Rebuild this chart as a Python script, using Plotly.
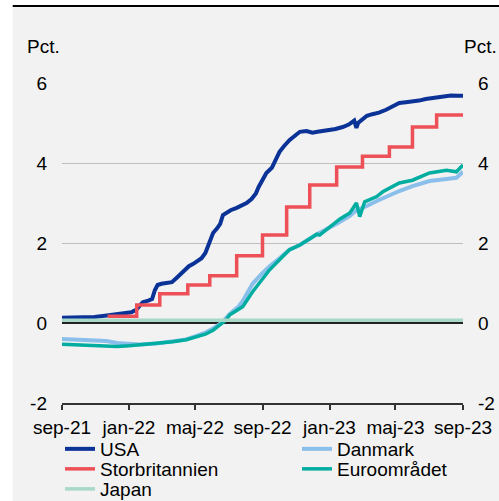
import plotly.graph_objects as go

# ---- data (percent) ----
usa_dates = [
    "2021-09-01", "2021-09-20", "2021-10-10", "2021-10-30", "2021-11-18", "2021-12-05",
    "2021-12-20", "2022-01-05", "2022-01-14", "2022-01-20", "2022-01-26", "2022-02-05",
    "2022-02-12", "2022-02-17", "2022-02-22", "2022-03-01", "2022-03-10", "2022-03-20",
    "2022-03-28", "2022-04-06", "2022-04-13", "2022-04-20", "2022-04-28", "2022-05-06",
    "2022-05-13", "2022-05-20", "2022-05-25", "2022-05-30", "2022-06-03", "2022-06-10",
    "2022-06-16", "2022-06-21", "2022-06-27", "2022-07-05", "2022-07-16", "2022-07-25",
    "2022-08-03", "2022-08-12", "2022-08-20", "2022-08-25", "2022-09-01", "2022-09-08",
    "2022-09-18", "2022-09-26", "2022-10-02", "2022-10-10", "2022-10-20", "2022-10-30",
    "2022-11-08", "2022-11-20", "2022-12-01", "2022-12-10", "2022-12-20", "2023-01-01",
    "2023-01-12", "2023-01-25", "2023-02-05", "2023-02-15", "2023-02-19", "2023-02-22",
    "2023-03-01", "2023-03-10", "2023-03-20", "2023-04-01", "2023-04-14", "2023-04-25",
    "2023-05-08", "2023-05-20", "2023-06-01", "2023-06-13", "2023-06-25", "2023-07-10",
    "2023-07-25", "2023-08-10", "2023-08-22", "2023-09-01",
]
usa_values = [
    0.13, 0.13, 0.14, 0.15, 0.18, 0.21,
    0.24, 0.27, 0.33, 0.42, 0.52, 0.56,
    0.60, 0.82, 0.95, 0.98, 1.00, 1.02,
    1.12, 1.24, 1.35, 1.42, 1.48, 1.55,
    1.62, 1.75, 1.92, 2.08, 2.25, 2.36,
    2.48, 2.70, 2.76, 2.82, 2.88, 2.94,
    3.00, 3.10, 3.24, 3.40, 3.58, 3.75,
    3.88, 4.10, 4.28, 4.42, 4.57, 4.68,
    4.78, 4.80, 4.76, 4.78, 4.80, 4.82,
    4.85, 4.90, 4.96, 5.06, 4.88, 5.00,
    5.08, 5.18, 5.22, 5.26, 5.33, 5.42,
    5.50, 5.52, 5.53, 5.56, 5.60, 5.63,
    5.66, 5.69, 5.68, 5.68,
]

dk_dates = [
    "2021-09-01", "2021-10-01", "2021-11-01", "2021-11-21", "2021-12-10", "2022-01-01",
    "2022-01-20", "2022-02-20", "2022-03-22", "2022-04-15", "2022-05-04", "2022-05-20",
    "2022-06-03", "2022-06-20", "2022-07-03", "2022-07-20", "2022-07-27", "2022-08-14",
    "2022-08-30", "2022-09-14", "2022-10-02", "2022-10-20", "2022-11-08", "2022-12-09",
    "2023-01-14", "2023-02-07", "2023-02-19", "2023-03-06", "2023-03-28", "2023-04-14",
    "2023-05-08", "2023-06-01", "2023-07-02", "2023-08-02", "2023-08-20", "2023-09-01",
]
dk_values = [
    -0.40, -0.42, -0.44, -0.45, -0.50, -0.53,
    -0.54, -0.51, -0.46, -0.41, -0.32, -0.24,
    -0.14, 0.02, 0.22, 0.42, 0.55, 0.98,
    1.22, 1.42, 1.62, 1.83, 1.95, 2.22,
    2.48, 2.68, 2.82, 2.90, 3.05, 3.16,
    3.30, 3.42, 3.55, 3.60, 3.63, 3.78,
]

uk_dates = [
    "2021-11-23", "2022-01-15", "2022-02-26", "2022-04-18", "2022-05-28", "2022-07-16",
    "2022-09-01", "2022-10-15", "2022-11-26", "2023-01-14", "2023-03-02", "2023-04-20",
    "2023-06-01", "2023-07-15", "2023-09-01",
]
uk_values = [
    0.17, 0.45, 0.73, 0.95, 1.18, 1.68,
    2.20, 2.90, 3.45, 3.90, 4.17, 4.40,
    4.90, 5.20, 5.20,
]

ea_dates = [
    "2021-09-01", "2021-10-01", "2021-11-01", "2021-11-21", "2021-12-10", "2022-01-01",
    "2022-01-20", "2022-02-20", "2022-03-22", "2022-04-15", "2022-05-04", "2022-05-20",
    "2022-06-03", "2022-06-20", "2022-06-27", "2022-07-03", "2022-07-27", "2022-08-14",
    "2022-08-30", "2022-09-14", "2022-10-02", "2022-10-20", "2022-11-08", "2022-12-09",
    "2022-12-14", "2023-01-14", "2023-01-20", "2023-02-07", "2023-02-19", "2023-02-25",
    "2023-03-06", "2023-03-28", "2023-04-08", "2023-05-08", "2023-06-01", "2023-07-02",
    "2023-08-02", "2023-08-20", "2023-09-01",
]
ea_values = [
    -0.53, -0.55, -0.56, -0.59, -0.59, -0.57,
    -0.55, -0.52, -0.47, -0.42, -0.34, -0.28,
    -0.18, 0.00, 0.08, 0.20, 0.41, 0.78,
    1.08, 1.33, 1.58, 1.83, 1.95, 2.22,
    2.20, 2.53, 2.60, 2.75, 3.00, 2.66,
    3.03, 3.16, 3.28, 3.50, 3.57, 3.75,
    3.82, 3.78, 3.95,
]

jp_dates = [
    "2021-09-01", "2022-03-01", "2022-09-01", "2022-12-20", "2023-01-05", "2023-01-20",
    "2023-04-01", "2023-09-01",
]
jp_values = [0.07, 0.07, 0.07, 0.07, 0.09, 0.08, 0.07, 0.07]

tick_dates = ["2021-09-01", "2022-01-01", "2022-05-01", "2022-09-01",
              "2023-01-01", "2023-05-01", "2023-09-01"]
tick_labels = ["sep-21", "jan-22", "maj-22", "sep-22", "jan-23", "maj-23", "sep-23"]
y_ticks = [-2, 0, 2, 4, 6]
y_tick_labels = ["-2", "0", "2", "4", "6"]

# ---- styling ----
FONT = "Liberation Sans, Arial, sans-serif"
FS = 19
C_USA = "#0B3296"
C_DK = "#89BFEA"
C_UK = "#EE5058"
C_EA = "#00ADA0"
C_JP = "#A8D8C6"
BG = "#F2F2F2"

fig = go.Figure()
fig.add_trace(go.Scatter(x=usa_dates, y=usa_values, name="USA", mode="lines",
                         line=dict(color=C_USA, width=4), legend="legend"))
fig.add_trace(go.Scatter(x=dk_dates, y=dk_values, name="Danmark", mode="lines",
                         line=dict(color=C_DK, width=4), legend="legend2"))
fig.add_trace(go.Scatter(x=uk_dates, y=uk_values, name="Storbritannien", mode="lines",
                         line=dict(color=C_UK, width=3.5, shape="hv"), legend="legend3"))
fig.add_trace(go.Scatter(x=ea_dates, y=ea_values, name="Euroområdet", mode="lines",
                         line=dict(color=C_EA, width=3.5), legend="legend4"))
fig.add_trace(go.Scatter(x=jp_dates, y=jp_values, name="Japan", mode="lines",
                         line=dict(color=C_JP, width=3.5), legend="legend5"))


def legend_box(x_px, y_px):
    """One single-entry legend placed at a pixel position in the figure."""
    return dict(xanchor="left", yanchor="middle",
                xref="container", yref="container",
                x=x_px / 499, y=1 - y_px / 501, bgcolor="rgba(0,0,0,0)",
                borderwidth=0,
                font=dict(family=FONT, size=FS, color="black"),
                itemclick=False, itemdoubleclick=False)


COL1, COL2 = 60, 297
ROW1, ROW2, ROW3 = 449, 469, 489

fig.update_layout(
    width=499, height=501,
    margin=dict(l=62, r=36, t=83, b=98, pad=0, autoexpand=False),
    paper_bgcolor="white",
    plot_bgcolor=BG,
    font=dict(family=FONT, size=FS, color="black"),
    showlegend=True,
    legend=legend_box(COL1, ROW1),
    legend2=legend_box(COL2, ROW1),
    legend3=legend_box(COL1, ROW2),
    legend4=legend_box(COL2, ROW2),
    legend5=legend_box(COL1, ROW3),
    xaxis=dict(
        type="date", range=["2021-09-01", "2023-09-01"],
        tickvals=tick_dates, ticktext=tick_labels,
        showgrid=False, zeroline=False,
        showline=True, linecolor="#333333", linewidth=1.5,
        ticks="outside", ticklen=5, tickwidth=1.5, tickcolor="#333333",
        ticklabelstandoff=1,
        tickfont=dict(family=FONT, size=FS, color="black"),
    ),
    yaxis=dict(
        range=[-2, 6], tickvals=y_ticks, ticktext=y_tick_labels,
        showgrid=True, gridcolor="#BFBFBF", gridwidth=1,
        zeroline=True, zerolinecolor="#222222", zerolinewidth=1.5,
        ticks="", ticklabelstandoff=14,
        tickfont=dict(family=FONT, size=FS, color="black"),
    ),
    yaxis2=dict(
        range=[-2, 6], tickvals=y_ticks, ticktext=y_tick_labels,
        overlaying="y", side="right",
        showgrid=False, zeroline=False, ticks="", ticklabelstandoff=14,
        tickfont=dict(family=FONT, size=FS, color="black"),
    ),
    shapes=[
        # grey panel and the rule along its top edge
        dict(type="rect", xref="paper", yref="paper", x0=-0.1229, x1=1.1,
             y0=-0.35, y1=1.2366, fillcolor=BG, line=dict(width=0), layer="below"),
        dict(type="line", xref="paper", yref="paper", x0=-0.1229, x1=1.1,
             y0=1.2406, y1=1.2406, line=dict(color="black", width=2)),
    ],
    annotations=[
        dict(text="Pct.", xref="paper", yref="paper", x=-0.046, y=1.115,
             xanchor="center", yanchor="middle", showarrow=False,
             font=dict(family=FONT, size=FS, color="black")),
        dict(text="Pct.", xref="paper", yref="paper", x=1.044, y=1.115,
             xanchor="center", yanchor="middle", showarrow=False,
             font=dict(family=FONT, size=FS, color="black")),
    ],
)

# invisible trace so the right-hand axis is attached to the same scale
fig.add_trace(go.Scatter(x=[tick_dates[0]], y=[0], yaxis="y2", mode="lines",
                         showlegend=False, hoverinfo="skip",
                         line=dict(color="rgba(0,0,0,0)")))

fig.write_html("out.html")
